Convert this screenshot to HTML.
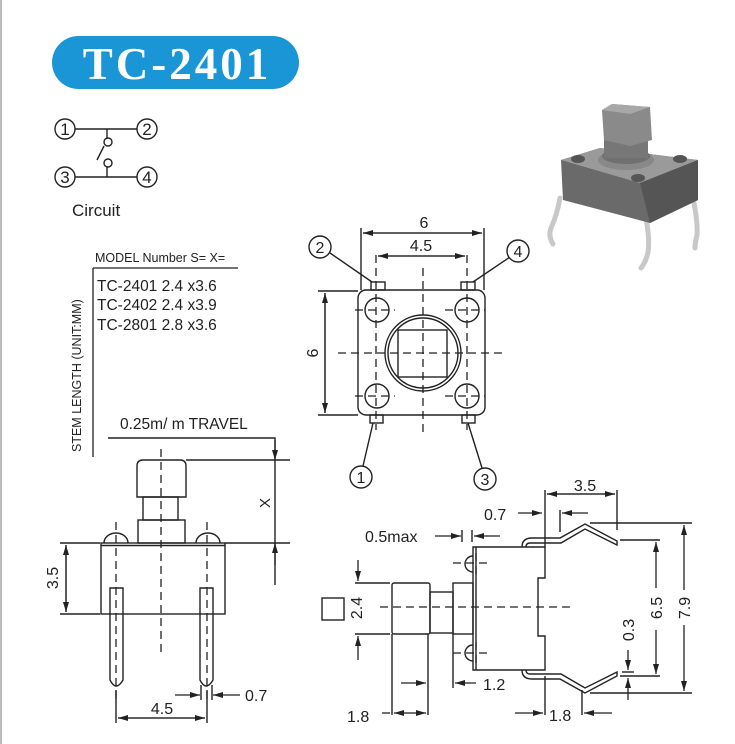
<!DOCTYPE html>
<html><head><meta charset="utf-8"><style>
html,body{margin:0;padding:0;background:#fff;}
svg{display:block;}
text{font-family:"Liberation Sans",Arial,sans-serif;fill:#222;}
</style></head><body>
<svg width="735" height="744" viewBox="0 0 735 744" xmlns="http://www.w3.org/2000/svg">
<defs>
<marker id="a" markerWidth="10" markerHeight="6" refX="10" refY="3" orient="auto" markerUnits="userSpaceOnUse"><path d="M0,0 L10,3 L0,6 Z" fill="#222"/></marker>
</defs>
<rect x="0" y="0" width="2" height="744" fill="#bbb"/>
<!-- title -->
<rect x="52" y="36" width="247" height="53" rx="26.5" fill="#1a96d6"/>
<text x="177" y="79" text-anchor="middle" style="font-family:'Liberation Serif',serif;font-weight:bold;font-size:45px;letter-spacing:3px;fill:#fff">TC-2401</text>

<g fill="none" stroke="#222" stroke-width="1.4">
<!-- circuit -->
<circle cx="65" cy="129" r="10"/><circle cx="147" cy="129" r="10"/>
<circle cx="65" cy="177" r="10"/><circle cx="147" cy="177" r="10"/>
<line x1="75" y1="129" x2="137" y2="129"/><line x1="75" y1="177" x2="137" y2="177"/>
<line x1="107" y1="129" x2="107" y2="138"/><circle cx="108" cy="142" r="4"/>
<line x1="97" y1="160" x2="104" y2="146"/>
<circle cx="108" cy="163" r="4"/><line x1="107" y1="167" x2="107" y2="177"/>
</g>
<g font-size="17" text-anchor="middle">
<text x="65" y="135">1</text><text x="147" y="135">2</text><text x="65" y="183">3</text><text x="147" y="183">4</text>
</g>
<text x="72" y="216" font-size="17">Circuit</text>

<!-- photo -->
<g>
<path d="M560,198 Q557,215 551,228 Q548,236 553,244" fill="none" stroke="#c8c8c8" stroke-width="5" stroke-linecap="round"/>
<path d="M646,218 Q650,240 648,252 Q646,262 641,268" fill="none" stroke="#c8c8c8" stroke-width="5" stroke-linecap="round"/>
<path d="M693,198 Q698,222 697,235 Q695,243 695,248" fill="none" stroke="#c8c8c8" stroke-width="5" stroke-linecap="round"/>
<path d="M561,160 L600,148 L698,160 L698,200 L650,223 L563,200 Z" fill="#6a6a6a"/>
<path d="M561,160 L600,148 L698,160 L640,183 Z" fill="#9a9a9a"/>
<path d="M640,183 L698,160 L698,200 L650,223 Z" fill="#555"/>
<ellipse cx="626" cy="160" rx="28" ry="10" fill="#888"/>
<ellipse cx="626" cy="156" rx="24" ry="8" fill="#707070"/>
<rect x="604" y="140" width="44" height="18" fill="#777"/>
<path d="M602,110 L612,104 L650,107 L652,140 L630,146 L604,140 Z" fill="#8a8a8a"/>
<path d="M602,110 L612,104 L650,107 L630,114 Z" fill="#a8a8a8"/>
<ellipse cx="578" cy="159" rx="7" ry="4" fill="#555"/><ellipse cx="680" cy="159" rx="7" ry="4" fill="#555"/><ellipse cx="638" cy="178" rx="7" ry="4" fill="#555"/>
</g>

<!-- model table -->
<text x="95" y="262" font-size="12.5">MODEL Number S=  X=</text>
<g stroke="#222" stroke-width="1.3"><line x1="93" y1="268" x2="238" y2="268"/><line x1="93" y1="268" x2="93" y2="457"/></g>
<text x="97" y="291" font-size="15.5">TC-2401 2.4 x3.6</text>
<text x="97" y="310" font-size="15.5">TC-2402 2.4 x3.9</text>
<text x="97" y="330" font-size="15.5">TC-2801 2.8 x3.6</text>
<text transform="translate(81,452) rotate(-90)" font-size="12.5">STEM LENGTH (UNIT:MM)</text>

<!-- top view -->
<g fill="none" stroke="#222" stroke-width="1.4">
<rect x="358" y="290" width="127" height="125" rx="8"/>
<circle cx="423" cy="353" r="38"/><circle cx="423" cy="353" r="35"/>
<rect x="398" y="330" width="49" height="47"/>
<circle cx="377" cy="310" r="12"/><circle cx="467" cy="310" r="12"/>
<circle cx="377" cy="396" r="12"/><circle cx="467" cy="396" r="12"/>
<rect x="371" y="282" width="14" height="8"/><rect x="461" y="282" width="14" height="8"/>
<rect x="370" y="415" width="13" height="8"/><rect x="462" y="415" width="13" height="8"/>
<line x1="361" y1="228" x2="361" y2="290"/><line x1="484" y1="228" x2="484" y2="290"/>
<line x1="318" y1="291" x2="358" y2="291"/><line x1="318" y1="415" x2="358" y2="415"/>
<line x1="372" y1="282" x2="330" y2="253"/><line x1="473" y1="282" x2="510" y2="257"/>
<line x1="373" y1="423" x2="363" y2="466"/><line x1="468" y1="423" x2="482" y2="468"/>
</g>
<g stroke="#222" stroke-width="1.3">
<line x1="363" y1="233" x2="482" y2="233" marker-end="url(#a)"/><line x1="482" y1="233" x2="363" y2="233" marker-end="url(#a)"/>
<line x1="378" y1="256" x2="465" y2="256" marker-end="url(#a)"/><line x1="465" y1="256" x2="378" y2="256" marker-end="url(#a)"/>
<line x1="325" y1="293" x2="325" y2="413" marker-end="url(#a)"/><line x1="325" y1="413" x2="325" y2="293" marker-end="url(#a)"/>
</g>
<g fill="none" stroke="#222" stroke-width="1.3" stroke-dasharray="8,5">
<line x1="338" y1="353" x2="505" y2="353"/><line x1="423" y1="268" x2="423" y2="432"/>
<line x1="376" y1="255" x2="376" y2="430"/><line x1="467" y1="255" x2="467" y2="430"/>
<line x1="355" y1="310" x2="395" y2="310"/><line x1="445" y1="310" x2="485" y2="310"/>
<line x1="355" y1="396" x2="395" y2="396"/><line x1="445" y1="396" x2="485" y2="396"/>
</g>
<text x="424" y="228" font-size="16" text-anchor="middle">6</text>
<text x="421" y="251" font-size="16" text-anchor="middle">4.5</text>
<text transform="translate(318,353) rotate(-90)" font-size="16" text-anchor="middle">6</text>
<g fill="#fff" stroke="#222" stroke-width="1.4">
<circle cx="320" cy="247" r="11"/><circle cx="518" cy="251" r="11"/><circle cx="361" cy="477" r="11"/><circle cx="485" cy="479" r="11"/>
</g>
<g font-size="16" text-anchor="middle">
<text x="320" y="253">2</text><text x="518" y="257">4</text><text x="361" y="483">1</text><text x="485" y="485">3</text>
</g>

<!-- left side view -->
<text x="120" y="429" font-size="15.5">0.25m/ m TRAVEL</text>
<g fill="none" stroke="#222" stroke-width="1.4">
<polyline points="108,438 275,438 275,585"/>
<line x1="186" y1="460" x2="290" y2="460"/><line x1="225" y1="543" x2="290" y2="543"/>
<path d="M137,497 L137,466 Q137,460 143,460 L180,460 Q186,460 186,466 L186,497 Z"/>
<rect x="143" y="497" width="35" height="23"/>
<rect x="138" y="520" width="47" height="23"/>
<rect x="101" y="543" width="124" height="71"/>
<line x1="101" y1="545.5" x2="225" y2="545.5"/>
<path d="M104,543 A12,10 0 0 1 128,543"/><path d="M196,543 A12,10 0 0 1 220,543"/>
<path d="M110,588 L123,588 L123,680 Q116,692 110,680 Z"/>
<path d="M200,588 L213,588 L213,680 Q206,692 200,680 Z"/>
<line x1="60" y1="543" x2="100" y2="543"/><line x1="60" y1="614" x2="100" y2="614"/>
<line x1="116" y1="690" x2="116" y2="723"/><line x1="207" y1="690" x2="207" y2="723"/>
<line x1="201" y1="685" x2="201" y2="700"/><line x1="212" y1="685" x2="212" y2="700"/>
</g>
<g stroke="#222" stroke-width="1.3">
<line x1="275" y1="440" x2="275" y2="460" marker-end="url(#a)"/>
<line x1="275" y1="565" x2="275" y2="543" marker-end="url(#a)"/>
<line x1="66" y1="545" x2="66" y2="612" marker-end="url(#a)"/><line x1="66" y1="612" x2="66" y2="545" marker-end="url(#a)"/>
<line x1="118" y1="718" x2="205" y2="718" marker-end="url(#a)"/><line x1="205" y1="718" x2="118" y2="718" marker-end="url(#a)"/>
<line x1="175" y1="695" x2="200" y2="695" marker-end="url(#a)"/>
<line x1="240" y1="695" x2="213" y2="695" marker-end="url(#a)"/>
</g>
<g fill="none" stroke="#222" stroke-width="1.3" stroke-dasharray="8,5">
<line x1="161" y1="449" x2="161" y2="657"/>
<line x1="116" y1="522" x2="116" y2="700"/><line x1="207" y1="522" x2="207" y2="700"/>
</g>
<text transform="translate(270,503) rotate(-90)" font-size="15" text-anchor="middle">X</text>
<text transform="translate(58,578) rotate(-90)" font-size="16" text-anchor="middle">3.5</text>
<text x="162" y="714" font-size="16" text-anchor="middle">4.5</text>
<text x="245" y="701" font-size="16">0.7</text>

<!-- right side view -->
<g fill="none" stroke="#222" stroke-width="1.4">
<path d="M473,547 L545,547 L545,578 L538,578 L538,636 L545,636 L545,670 L473,670 Z"/>
<line x1="476" y1="547" x2="476" y2="670"/>
<path d="M473,556 A8,8 0 0 0 473,572"/><path d="M473,645 A8,8 0 0 0 473,661"/>
<rect x="453" y="583" width="20" height="51"/>
<rect x="430" y="592" width="23" height="41"/>
<rect x="392" y="583" width="38" height="51" rx="2"/>
<rect x="322" y="598" width="22" height="22"/>
<path d="M522,547 Q522,538 532,538 L560,538 L585,524 L617,541 L617,545 L585,529 L561,543 L530,543 Q526,543 526,547"/>
<path d="M522,670 Q522,679 532,679 L560,679 L585,693 L617,676 L617,672 L585,688 L561,674 L530,674 Q526,674 526,670"/>
<line x1="545" y1="490" x2="545" y2="547"/><line x1="617" y1="490" x2="617" y2="530"/>
<line x1="560" y1="510" x2="560" y2="532"/>
<line x1="462" y1="530" x2="462" y2="542"/><line x1="472" y1="530" x2="472" y2="542"/>
<line x1="590" y1="523" x2="692" y2="523"/><line x1="590" y1="693" x2="692" y2="693"/>
<line x1="620" y1="540" x2="660" y2="540"/><line x1="620" y1="676" x2="660" y2="676"/>
<line x1="622" y1="672" x2="634" y2="672"/>
<line x1="355" y1="583" x2="390" y2="583"/><line x1="355" y1="634" x2="390" y2="634"/>
<line x1="392" y1="634" x2="392" y2="715"/><line x1="428" y1="634" x2="428" y2="715"/>
<line x1="453" y1="634" x2="453" y2="688"/>
<line x1="545" y1="676" x2="545" y2="715"/><line x1="582" y1="690" x2="582" y2="715"/>
</g>
<g stroke="#222" stroke-width="1.3">
<line x1="547" y1="494" x2="615" y2="494" marker-end="url(#a)"/><line x1="615" y1="494" x2="547" y2="494" marker-end="url(#a)"/>
<line x1="518" y1="513" x2="542" y2="513" marker-end="url(#a)"/>
<line x1="588" y1="513" x2="562" y2="513" marker-end="url(#a)"/>
<line x1="435" y1="536" x2="461" y2="536" marker-end="url(#a)"/>
<line x1="500" y1="536" x2="474" y2="536" marker-end="url(#a)"/>
<line x1="684" y1="590" x2="684" y2="525" marker-end="url(#a)"/>
<line x1="684" y1="625" x2="684" y2="691" marker-end="url(#a)"/>
<line x1="656" y1="588" x2="656" y2="542" marker-end="url(#a)"/>
<line x1="656" y1="630" x2="656" y2="674" marker-end="url(#a)"/>
<line x1="628" y1="650" x2="628" y2="670" marker-end="url(#a)"/>
<line x1="628" y1="700" x2="628" y2="678" marker-end="url(#a)"/>
<line x1="358" y1="560" x2="358" y2="581" marker-end="url(#a)"/>
<line x1="358" y1="660" x2="358" y2="636" marker-end="url(#a)"/>
<line x1="476" y1="683" x2="455" y2="683" marker-end="url(#a)"/>
<line x1="401" y1="683" x2="426" y2="683" marker-end="url(#a)"/>
<line x1="382" y1="713" x2="390" y2="713"/>
<line x1="410" y1="713" x2="394" y2="713" marker-end="url(#a)"/><line x1="410" y1="713" x2="426" y2="713" marker-end="url(#a)"/>
<line x1="515" y1="713" x2="543" y2="713" marker-end="url(#a)"/>
<line x1="612" y1="713" x2="584" y2="713" marker-end="url(#a)"/>
</g>
<g fill="none" stroke="#222" stroke-width="1.3" stroke-dasharray="8,5">
<line x1="380" y1="607" x2="573" y2="607"/>
<line x1="453" y1="563" x2="490" y2="563"/><line x1="453" y1="653" x2="490" y2="653"/>
<line x1="476" y1="553" x2="476" y2="575"/><line x1="476" y1="642" x2="476" y2="664"/>
</g>
<text x="585" y="491" font-size="16" text-anchor="middle">3.5</text>
<text x="484" y="520" font-size="16">0.7</text>
<text x="365" y="542" font-size="16">0.5max</text>
<text transform="translate(362,608) rotate(-90)" font-size="16" text-anchor="middle">2.4</text>
<text x="483" y="690" font-size="16">1.2</text>
<text x="347" y="722" font-size="16">1.8</text>
<text x="549" y="721" font-size="16">1.8</text>
<text transform="translate(690,608) rotate(-90)" font-size="16" text-anchor="middle">7.9</text>
<text transform="translate(662,608) rotate(-90)" font-size="16" text-anchor="middle">6.5</text>
<text transform="translate(634,630) rotate(-90)" font-size="16" text-anchor="middle">0.3</text>
</svg>
</body></html>
